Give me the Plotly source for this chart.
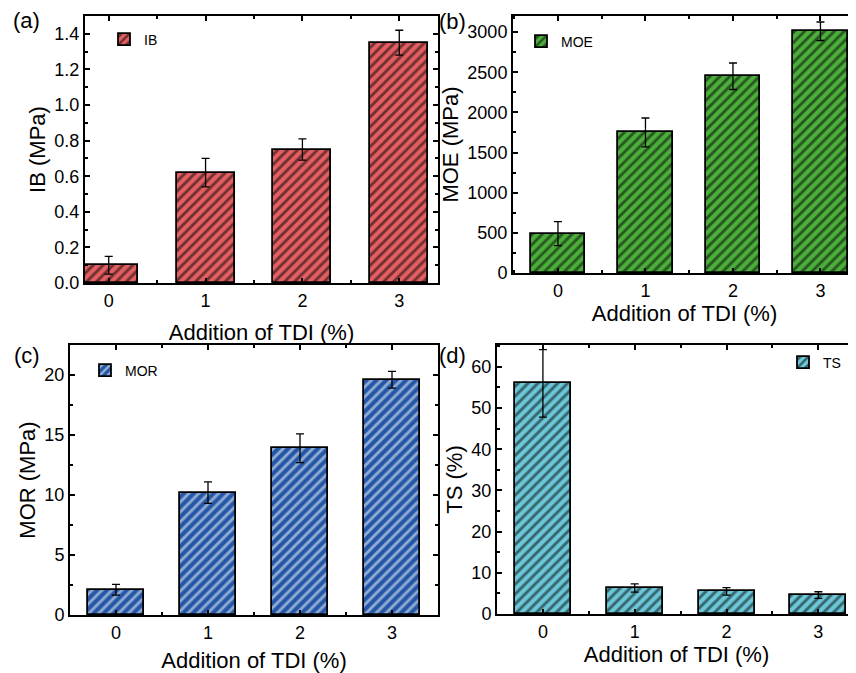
import plotly.graph_objects as go

W, H = 856, 673          # browser viewport
OFF = 8                  # default page body margin
FW, FH = W - OFF, H - OFF
FONT = "Liberation Sans, Arial, sans-serif"

# ---- data ----
tdi = [0, 1, 2, 3]
tdi_labels = ["0", "1", "2", "3"]

ib = [0.10, 0.62, 0.75, 1.35]
ib_err = [0.05, 0.08, 0.06, 0.07]

moe = [490, 1750, 2450, 3010]
moe_err = [150, 180, 165, 115]

mor = [2.1, 10.2, 13.9, 19.6]
mor_err = [0.45, 0.9, 1.2, 0.7]

ts = [56.0, 6.3, 5.5, 4.6]
ts_err = [8.2, 1.0, 0.9, 0.8]


# ---- panel geometry (screen pixels -> paper fractions) ----
def px(x):
    return min(max((x - OFF) / FW, 0.0), 1.0)


def py(y):
    return min(max(1 - (y - OFF) / FH, 0.0), 1.0)


def xd(a, b):
    return [px(a), px(b)]


def yd(top, bottom):
    return [py(bottom), py(top)]


panels = [
    dict(name="IB", y=ib, err=ib_err, color="#E35F62", fg="#000000", width=0.6,
         xdom=xd(85, 438), ydom=yd(16, 283), xr=[-0.245, 3.40], yr=[0, 1.5],
         dtick=0.2, minor=0.1, fmt=".1f", ytitle="IB (MPa)", mirror_y="ticks",
         leg=(104, 23.5), xs=15, ys=3),
    dict(name="MOE", y=moe, err=moe_err, color="#4CAF3C", fg="#000000", width=0.62,
         xdom=xd(513, 856), ydom=yd(16, 273), xr=[-0.514, 3.406], yr=[0, 3200],
         dtick=500, minor=250, fmt="d", ytitle="MOE (MPa)", mirror_y=False,
         leg=(521, 25.5), xs=6, ys=3),
    dict(name="MOR", y=mor, err=mor_err, color="#2356A6", fg="#FFFFFF", width=0.6,
         xdom=xd(70, 438), ydom=yd(345, 615), xr=[-0.5, 3.5], yr=[0, 22.5],
         dtick=5, minor=2.5, fmt="d", ytitle="MOR (MPa)", mirror_y="ticks",
         leg=(85, 354.5), xs=12, ys=3),
    dict(name="TS", y=ts, err=ts_err, color="#6CC8D8", fg="#000000", width=0.61,
         xdom=xd(497, 856), ydom=yd(345, 614), xr=[-0.5, 3.41], yr=[0, 65.3],
         dtick=10, minor=5, fmt="d", ytitle="TS (%)", mirror_y=False,
         leg=(783, 346.5), xs=5, ys=3),
]

fig = go.Figure()
layout = dict(
    width=FW, height=FH,
    margin=dict(l=0, r=0, t=0, b=0),
    paper_bgcolor="white", plot_bgcolor="white",
    font=dict(family=FONT, color="black", size=18),
    bargap=0,
)

for i, p in enumerate(panels):
    n = "" if i == 0 else str(i + 1)
    xa, ya = "x" + n, "y" + n
    lg = "legend" + n
    fig.add_trace(go.Bar(
        x=tdi, y=p["y"], name=p["name"], width=p["width"],
        xaxis=xa, yaxis=ya, legend=lg,
        marker=dict(color=p["color"], line=dict(color="black", width=1.8),
                    pattern=dict(shape="/", fgcolor=p["fg"], bgcolor=p["color"],
                                 size=7, solidity=0.42, fillmode="overlay")),
        error_y=dict(type="data", array=p["err"], color="black", thickness=1.3, width=4),
    ))
    layout["xaxis" + n] = dict(
        domain=p["xdom"], range=p["xr"], anchor=ya,
        tickvals=tdi, ticktext=tdi_labels,
        showline=True, linecolor="black", linewidth=2, mirror="ticks",
        ticks="inside", ticklen=5, tickwidth=1.5, tickcolor="black",
        minor=dict(dtick=0.5, tick0=0.5, ticks="inside", ticklen=3, tickwidth=1.5, tickcolor="black"),
        showgrid=False, zeroline=False, automargin=False,
        tickfont=dict(size=18),
        title=dict(text="Addition of TDI (%)", font=dict(size=22), standoff=p["xs"]),
    )
    layout["yaxis" + n] = dict(
        domain=p["ydom"], range=p["yr"], anchor=xa,
        dtick=p["dtick"], tick0=0, tickformat=p["fmt"],
        showline=True, linecolor="black", linewidth=2, mirror=p["mirror_y"],
        ticks="inside", ticklen=5, tickwidth=1.5, tickcolor="black",
        minor=dict(dtick=p["minor"], ticks="inside", ticklen=3, tickwidth=1.5, tickcolor="black"),
        showgrid=False, zeroline=False, automargin=False,
        tickfont=dict(size=18),
        title=dict(text=p["ytitle"], font=dict(size=22), standoff=p["ys"]),
    )
    layout[lg] = dict(
        x=px(p["leg"][0]), y=py(p["leg"][1]), xanchor="left", yanchor="top",
        bgcolor="rgba(0,0,0,0)", borderwidth=0, font=dict(size=14),
    )

labels = [("(a)", 26, 21), ("(b)", 452, 22), ("(c)", 27, 355), ("(d)", 452, 355)]
ann = []
for t, lx, ly in labels:
    ann.append(dict(text=t, x=px(lx), y=py(ly), xref="paper", yref="paper",
                    showarrow=False, font=dict(size=22), xanchor="center", yanchor="middle"))
layout["annotations"] = ann
layout["showlegend"] = True

fig.update_layout(**layout)
fig.write_html("out.html")
